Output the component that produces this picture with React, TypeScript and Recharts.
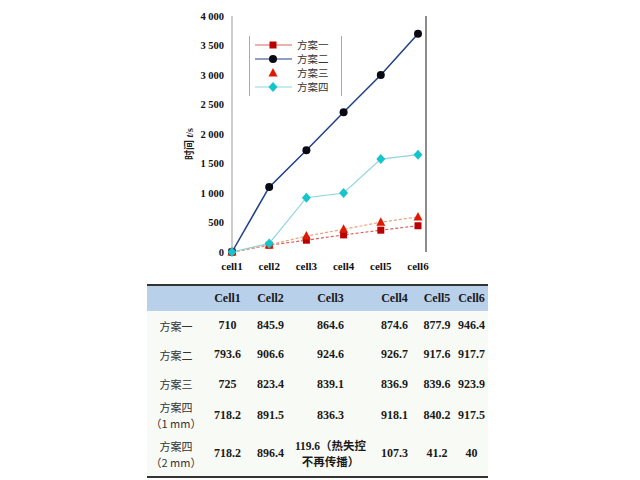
import React from 'react';
import { LineChart, Line, XAxis, YAxis } from 'recharts';

// 各方案数据（读自原图，单位 s）
const categories = ['cell1', 'cell2', 'cell3', 'cell4', 'cell5', 'cell6'];
const plan1 = [0, 115, 200, 290, 370, 445];
const plan2 = [0, 1100, 1725, 2370, 3000, 3700];
const plan3 = [0, 120, 270, 385, 505, 595];
const plan4 = [0, 145, 920, 1000, 1575, 1650];
const yTicks = [0, 500, 1000, 1500, 2000, 2500, 3000, 3500, 4000];

// 表格数据
const tableCols = ['Cell1', 'Cell2', 'Cell3', 'Cell4', 'Cell5', 'Cell6'];
const tableRowLabels = [['方案一'], ['方案二'], ['方案三'], ['方案四', '（1 mm）'], ['方案四', '（2 mm）']];
const tableValues = [
  ['710', '845.9', '864.6', '874.6', '877.9', '946.4'],
  ['793.6', '906.6', '924.6', '926.7', '917.6', '917.7'],
  ['725', '823.4', '839.1', '836.9', '839.6', '923.9'],
  ['718.2', '891.5', '836.3', '918.1', '840.2', '917.5'],
  ['718.2', '896.4', '119.6（热失控\n不再传播）', '107.3', '41.2', '40'],
];

const data = categories.map((c, i) => ({
  cell: c,
  p1: plan1[i],
  p2: plan2[i],
  p3: plan3[i],
  p4: plan4[i],
}));

const SERIF = '"Liberation Serif", "Times New Roman", serif';
const CJK = '"Noto Sans CJK SC", sans-serif';

type Shape = 'square' | 'circle' | 'triangle' | 'diamond';

function Marker({ cx, cy, shape, fill }: { cx: number; cy: number; shape: Shape; fill: string }) {
  if (cx == null || cy == null) return null;
  if (shape === 'square') return <rect x={cx - 3.5} y={cy - 3.5} width={7} height={7} fill={fill} />;
  if (shape === 'circle') return <circle cx={cx} cy={cy} r={4} fill={fill} />;
  if (shape === 'triangle')
    return <polygon points={`${cx},${cy - 5} ${cx + 4.5},${cy + 3.5} ${cx - 4.5},${cy + 3.5}`} fill={fill} />;
  return <polygon points={`${cx},${cy - 5} ${cx + 4.5},${cy} ${cx},${cy + 5} ${cx - 4.5},${cy}`} fill={fill} />;
}

const seriesDefs = [
  { key: 'p1', name: '方案一', stroke: '#d9605a', dash: '3 2', marker: '#b80000', shape: 'square' as Shape, legendLine: true },
  { key: 'p2', name: '方案二', stroke: '#1f3f8a', dash: undefined, marker: '#0a0a14', shape: 'circle' as Shape, legendLine: true },
  { key: 'p3', name: '方案三', stroke: '#e9a27c', dash: '3 2', marker: '#dd1a00', shape: 'triangle' as Shape, legendLine: false },
  { key: 'p4', name: '方案四', stroke: '#8fd5de', dash: undefined, marker: '#16c4cc', shape: 'diamond' as Shape, legendLine: true },
];

// 图例（放在图内左上）
function LegendBox() {
  return (
    <div
      style={{
        position: 'absolute',
        left: 249,
        top: 36,
        width: 93,
        height: 60,
        borderLeft: '1px solid #aaa',
        borderRight: '1px solid #aaa',
        boxSizing: 'border-box',
        paddingTop: 2,
        background: '#fff',
      }}
    >
      {seriesDefs.map((s) => (
        <div key={s.key} style={{ display: 'flex', alignItems: 'center', height: 14, lineHeight: '14px' }}>
          <svg width={44} height={12} style={{ display: 'block' }}>
            {s.legendLine && <line x1={5} y1={6} x2={42} y2={6} stroke={s.stroke} strokeWidth={1} />}
            <Marker cx={23} cy={6} shape={s.shape} fill={s.marker} />
          </svg>
          <span style={{ fontFamily: CJK, fontSize: 10.5, lineHeight: '14px', color: '#333', marginLeft: 3 }}>{s.name}</span>
        </div>
      ))}
    </div>
  );
}

function YLabel(props: any) {
  const vb = props.viewBox || { x: 182, y: 16, width: 50, height: 236 };
  const x = vb.x + 11;
  const y = vb.y + vb.height / 2 + 10;
  return (
    <text x={x} y={y} transform={`rotate(-90 ${x} ${y})`} textAnchor="middle" fontSize={10} fill="#222" fontWeight="bold">
      <tspan fontFamily={CJK}>时间 </tspan>
      <tspan fontFamily={SERIF} fontStyle="italic">t</tspan>
      <tspan fontFamily={SERIF}>/s</tspan>
    </text>
  );
}

function ChartPart() {
  return (
    <LineChart
      style={{ position: 'absolute', left: 0, top: 0 }}
      width={640}
      height={280}
      data={data}
      margin={{ top: 16, right: 213, left: 182, bottom: 0 }}
    >
      <XAxis
        dataKey="cell"
        height={28}
        padding={{ left: 0, right: 8 }}
        axisLine={false}
        tickLine={false}
        tickMargin={4}
        tick={{ fontSize: 11, fontFamily: SERIF, fontWeight: 'bold', fill: '#111' }}
        interval={0}
      />
      <YAxis
        width={50}
        domain={[0, 4000]}
        ticks={yTicks}
        axisLine={{ stroke: '#999' }}
        tickLine={false}
        tickMargin={2}
        tickFormatter={(v: number) => (v >= 1000 ? `${Math.floor(v / 1000)} ${String(v % 1000).padStart(3, '0')}` : String(v))}
        tick={{ fontSize: 10.5, fontFamily: SERIF, fontWeight: 'bold', fill: '#111' }}
        label={{ content: <YLabel /> }}
      />
      <YAxis
        yAxisId="frame"
        orientation="right"
        width={1}
        domain={[0, 4000]}
        tick={false}
        tickLine={false}
        axisLine={{ stroke: '#666', strokeWidth: 1.5 }}
      />
      {seriesDefs.map((s) => (
        <Line
          key={s.key}
          dataKey={s.key}
          name={s.name}
          type="linear"
          stroke={s.stroke}
          strokeWidth={s.key === 'p2' ? 1.5 : 1.2}
          strokeDasharray={s.dash}
          dot={(p: any) => <Marker key={`${s.key}-${p.index}`} cx={p.cx} cy={p.cy} shape={s.shape} fill={s.marker} />}
          activeDot={false}
          isAnimationActive={false}
        />
      ))}
    </LineChart>
  );
}

// 列宽（px）
const colWidths = [58, 45, 41, 79, 49, 36, 33];
const rowHeights = [29, 29, 30, 32, 46];

function TablePart() {
  const cellBase: React.CSSProperties = {
    padding: 0,
    textAlign: 'center',
    whiteSpace: 'pre-line',
    fontFamily: SERIF,
    fontWeight: 'bold',
    fontSize: 12,
    color: '#1a1a1a',
  };
  return (
    <table
      style={{
        position: 'absolute',
        left: 147,
        top: 284,
        width: 341,
        borderCollapse: 'collapse',
        tableLayout: 'fixed',
        borderTop: '2px solid #333',
        borderBottom: '2px solid #333',
        background: '#f8faf6',
      }}
    >
      <colgroup>
        {colWidths.map((w, i) => (
          <col key={i} style={{ width: w }} />
        ))}
      </colgroup>
      <thead>
        <tr style={{ height: 26, background: '#b9d0ea' }}>
          <th style={cellBase}></th>
          {tableCols.map((c) => (
            <th key={c} style={cellBase}>
              {c}
            </th>
          ))}
        </tr>
      </thead>
      <tbody>
        {tableRowLabels.map((lab, r) => (
          <tr key={r} style={{ height: rowHeights[r] }}>
            <td style={{ ...cellBase, fontFamily: CJK, fontWeight: 'normal', fontSize: 11, lineHeight: '16px', color: '#333' }}>
              {lab.map((l, i) => (
                <div key={i}>{l}</div>
              ))}
            </td>
            {tableValues[r].map((v, c) => (
              <td
                key={c}
                style={
                  v.includes('（')
                    ? { ...cellBase, fontFamily: `${SERIF}, ${CJK}`, fontSize: 11.5, lineHeight: '16px' }
                    : cellBase
                }
              >
                {v}
              </td>
            ))}
          </tr>
        ))}
      </tbody>
    </table>
  );
}

export default function App() {
  return (
    <div style={{ position: 'absolute', left: 0, top: 0, width: 640, height: 480, background: '#fff', overflow: 'hidden' }}>
      <ChartPart />
      <LegendBox />
      <TablePart />
    </div>
  );
}
